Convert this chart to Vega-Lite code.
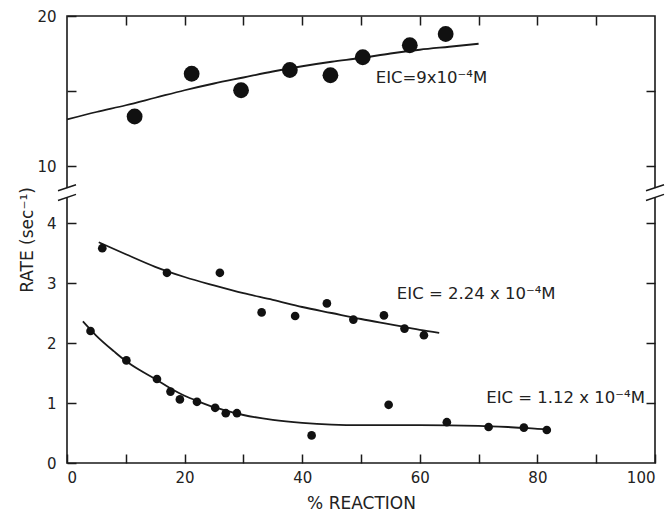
{
  "$schema": "https://vega.github.io/schema/vega-lite/v6.json",
  "width": 588,
  "height": 447,
  "autosize": "none",
  "padding": {"left": 67, "top": 16, "right": 16, "bottom": 50},
  "background": "white",
  "config": {
    "view": {"stroke": "#1a1a1a", "strokeWidth": 1.6},
    "axis": {
      "domain": false, "grid": false, "tickColor": "#1a1a1a", "tickWidth": 1.5, "tickSize": -9,
      "labelFont": "DejaVu Sans", "labelFontSize": 15, "labelColor": "#222",
      "titleFont": "DejaVu Sans", "titleFontWeight": "normal", "titleFontSize": 17, "titleColor": "#222"
    }
  },
  "datasets": {
    "pts": [
      {"series": "a", "pct": 11.5, "rate": 13.3},
      {"series": "a", "pct": 21.2, "rate": 16.15},
      {"series": "a", "pct": 29.6, "rate": 15.05},
      {"series": "a", "pct": 37.9, "rate": 16.4},
      {"series": "a", "pct": 44.8, "rate": 16.05},
      {"series": "a", "pct": 50.3, "rate": 17.25},
      {"series": "a", "pct": 58.3, "rate": 18.05},
      {"series": "a", "pct": 64.4, "rate": 18.8},
      {"series": "b", "pct": 6.0, "rate": 3.58},
      {"series": "b", "pct": 17.0, "rate": 3.17},
      {"series": "b", "pct": 26.0, "rate": 3.17},
      {"series": "b", "pct": 33.1, "rate": 2.51},
      {"series": "b", "pct": 38.8, "rate": 2.45},
      {"series": "b", "pct": 44.2, "rate": 2.66},
      {"series": "b", "pct": 48.7, "rate": 2.39},
      {"series": "b", "pct": 53.9, "rate": 2.46},
      {"series": "b", "pct": 57.4, "rate": 2.24},
      {"series": "b", "pct": 60.7, "rate": 2.13},
      {"series": "c", "pct": 4.0, "rate": 2.2},
      {"series": "c", "pct": 10.1, "rate": 1.71},
      {"series": "c", "pct": 15.3, "rate": 1.4},
      {"series": "c", "pct": 17.6, "rate": 1.19},
      {"series": "c", "pct": 19.2, "rate": 1.06},
      {"series": "c", "pct": 22.1, "rate": 1.02},
      {"series": "c", "pct": 25.2, "rate": 0.92},
      {"series": "c", "pct": 27.0, "rate": 0.83},
      {"series": "c", "pct": 28.9, "rate": 0.83},
      {"series": "c", "pct": 41.6, "rate": 0.46},
      {"series": "c", "pct": 54.7, "rate": 0.97},
      {"series": "c", "pct": 64.6, "rate": 0.68},
      {"series": "c", "pct": 71.7, "rate": 0.6},
      {"series": "c", "pct": 77.7, "rate": 0.59},
      {"series": "c", "pct": 81.6, "rate": 0.55}
    ],
    "curves": [
      {"series": "a", "pct": 0, "rate": 13.1},
      {"series": "a", "pct": 5, "rate": 13.6},
      {"series": "a", "pct": 10, "rate": 14.05},
      {"series": "a", "pct": 15, "rate": 14.55},
      {"series": "a", "pct": 20, "rate": 15.05},
      {"series": "a", "pct": 25, "rate": 15.5},
      {"series": "a", "pct": 30, "rate": 15.9},
      {"series": "a", "pct": 35, "rate": 16.3},
      {"series": "a", "pct": 40, "rate": 16.65},
      {"series": "a", "pct": 45, "rate": 16.95},
      {"series": "a", "pct": 50, "rate": 17.2},
      {"series": "a", "pct": 55, "rate": 17.5},
      {"series": "a", "pct": 60, "rate": 17.75},
      {"series": "a", "pct": 65, "rate": 17.95},
      {"series": "a", "pct": 70, "rate": 18.15},
      {"series": "b", "pct": 5.4, "rate": 3.68},
      {"series": "b", "pct": 10, "rate": 3.48},
      {"series": "b", "pct": 15, "rate": 3.27},
      {"series": "b", "pct": 20, "rate": 3.1},
      {"series": "b", "pct": 25, "rate": 2.96},
      {"series": "b", "pct": 30, "rate": 2.83},
      {"series": "b", "pct": 35, "rate": 2.72},
      {"series": "b", "pct": 40, "rate": 2.6},
      {"series": "b", "pct": 45, "rate": 2.5},
      {"series": "b", "pct": 50, "rate": 2.4},
      {"series": "b", "pct": 55, "rate": 2.31},
      {"series": "b", "pct": 60, "rate": 2.22},
      {"series": "b", "pct": 63.3, "rate": 2.17},
      {"series": "c", "pct": 2.7, "rate": 2.36},
      {"series": "c", "pct": 5, "rate": 2.12},
      {"series": "c", "pct": 8, "rate": 1.86},
      {"series": "c", "pct": 10, "rate": 1.7},
      {"series": "c", "pct": 12.5, "rate": 1.54},
      {"series": "c", "pct": 15, "rate": 1.4},
      {"series": "c", "pct": 17.5, "rate": 1.25},
      {"series": "c", "pct": 20, "rate": 1.12},
      {"series": "c", "pct": 22.5, "rate": 1.02},
      {"series": "c", "pct": 25, "rate": 0.93},
      {"series": "c", "pct": 27.5, "rate": 0.86},
      {"series": "c", "pct": 30, "rate": 0.8},
      {"series": "c", "pct": 35, "rate": 0.72},
      {"series": "c", "pct": 40, "rate": 0.67},
      {"series": "c", "pct": 45, "rate": 0.64},
      {"series": "c", "pct": 50, "rate": 0.63},
      {"series": "c", "pct": 60, "rate": 0.63},
      {"series": "c", "pct": 70, "rate": 0.62},
      {"series": "c", "pct": 75, "rate": 0.6},
      {"series": "c", "pct": 80, "rate": 0.57},
      {"series": "c", "pct": 82, "rate": 0.56}
    ],
    "labels": [
      {"pct": 52.5, "rate": 15.9, "text": "EIC=9x10⁻⁴M"},
      {"pct": 56.1, "rate": 2.82, "text": "EIC = 2.24 x 10⁻⁴M"},
      {"pct": 71.3, "rate": 1.09, "text": "EIC = 1.12 x 10⁻⁴M"}
    ],
    "breaks": [
      {"pct": 0, "rate": 7.2},
      {"pct": 100, "rate": 7.2}
    ]
  },
  "layer": [
    {
      "layer": [
        {
          "data": {"name": "curves"},
          "mark": {"type": "line", "interpolate": "monotone", "color": "#1a1a1a", "strokeWidth": 1.8},
          "encoding": {
            "x": {"field": "pct", "type": "quantitative"},
            "y": {"field": "rate", "type": "quantitative"},
            "detail": {"field": "series"}
          }
        },
        {
          "data": {"name": "pts"},
          "mark": {"type": "point", "filled": true, "color": "#111", "opacity": 1},
          "encoding": {
            "x": {
              "field": "pct", "type": "quantitative",
              "scale": {"domain": [0, 100], "nice": false, "zero": false},
              "axis": {"orient": "bottom", "values": [0,10,20,30,40,50,60,70,80,90,100], "labelExpr": "datum.value % 20 == 0 ? datum.label : ''", "labelPadding": 16, "title": "% REACTION", "titlePadding": 10}
            },
            "y": {
              "field": "rate", "type": "quantitative",
              "scale": {"domain": [0, 4, 10, 20], "range": [447, 207, 150, 0], "nice": false, "zero": false},
              "axis": {"orient": "left", "values": [0,1,2,3,4,10,15,20], "labelExpr": "datum.value == 15 ? '' : datum.label", "labelPadding": 20, "title": "RATE (sec⁻¹)", "titlePadding": 0}
            },
            "size": {"condition": {"test": "datum.series == 'a'", "value": 250}, "value": 75}
          }
        },
        {
          "data": {"name": "labels"},
          "mark": {"type": "text", "align": "left", "baseline": "middle", "font": "DejaVu Sans", "fontSize": 16.5, "color": "#222"},
          "encoding": {
            "x": {"field": "pct", "type": "quantitative"},
            "y": {"field": "rate", "type": "quantitative"},
            "text": {"field": "text"}
          }
        },
        {
          "data": {"name": "breaks"},
          "mark": {"type": "point", "shape": "M-0.35,-0.5L0.35,-0.5L0.35,0.5L-0.35,0.5Z", "filled": true, "fill": "white", "strokeWidth": 0, "size": 324, "opacity": 1},
          "encoding": {
            "x": {"field": "pct", "type": "quantitative"},
            "y": {"field": "rate", "type": "quantitative"}
          }
        },
        {
          "data": {"name": "breaks"},
          "mark": {"type": "point", "shape": "M-1,-0.2L1,-0.87M-1,0.87L1,0.2", "filled": false, "stroke": "#1a1a1a", "strokeWidth": 1.5, "size": 324, "opacity": 1},
          "encoding": {
            "x": {"field": "pct", "type": "quantitative"},
            "y": {"field": "rate", "type": "quantitative"}
          }
        }
      ]
    },
    {
      "data": {"name": "breaks"},
      "mark": {"type": "point", "opacity": 0},
      "encoding": {
        "x": {"field": "pct", "type": "quantitative", "axis": {"orient": "top", "values": [10,20,30,40,50,60,70,80,90], "labels": false, "title": null}},
        "y": {"field": "rate", "type": "quantitative", "axis": {"orient": "right", "values": [1,2,3,4,10,15], "labels": false, "title": null}}
      }
    }
  ],
  "resolve": {"axis": {"x": "independent", "y": "independent"}}
}
